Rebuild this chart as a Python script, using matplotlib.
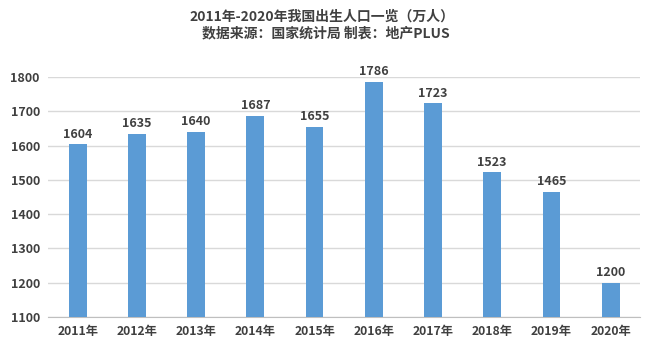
import matplotlib
matplotlib.use("Agg")
import matplotlib.pyplot as plt

years = ["2011年", "2012年", "2013年", "2014年", "2015年", "2016年", "2017年", "2018年", "2019年", "2020年"]
births = [1604, 1635, 1640, 1687, 1655, 1786, 1723, 1523, 1465, 1200]
yticks = [1100, 1200, 1300, 1400, 1500, 1600, 1700, 1800]

plt.rcParams['font.family'] = ['Noto Sans CJK SC', 'DejaVu Sans']

fig = plt.figure(figsize=(6.5, 3.53), dpi=100)
ax = fig.add_axes([0.074, 0.102, 0.911, 0.680])
x = list(range(len(years)))
ax.bar(x, [b - 1100 for b in births], bottom=1100, width=0.3, color="#5B9BD5", zorder=3)
for xi, b in zip(x, births):
    ax.text(xi, b + 10, str(b), ha="center", va="bottom", fontsize=9, fontweight="bold",
            color="#404040", clip_on=False)
ax.set_xlim(-0.5, len(years) - 0.5)
ax.set_ylim(1100, 1800)
ax.set_yticks(yticks)
ax.set_yticklabels([str(t) for t in yticks], fontsize=9, fontweight="bold", color="#404040")
ax.set_xticks(x)
ax.set_xticklabels(years, fontsize=8.8, fontweight="bold", color="#404040")
ax.tick_params(length=0, pad=6)
ax.grid(axis="y", color="#D9D9D9", linewidth=1, zorder=0)
for s in ["top", "right", "left"]:
    ax.spines[s].set_visible(False)
ax.spines["bottom"].set_color("#BFBFBF")
fig.text(0.496, 0.953, "2011年-2020年我国出生人口一览（万人）", ha="center", va="center",
         fontsize=10, fontweight="bold", color="#404040")
fig.text(0.502, 0.905, "数据来源：国家统计局 制表：地产PLUS", ha="center", va="center",
         fontsize=10, fontweight="bold", color="#404040")
fig.savefig("out.png", dpi=100)
